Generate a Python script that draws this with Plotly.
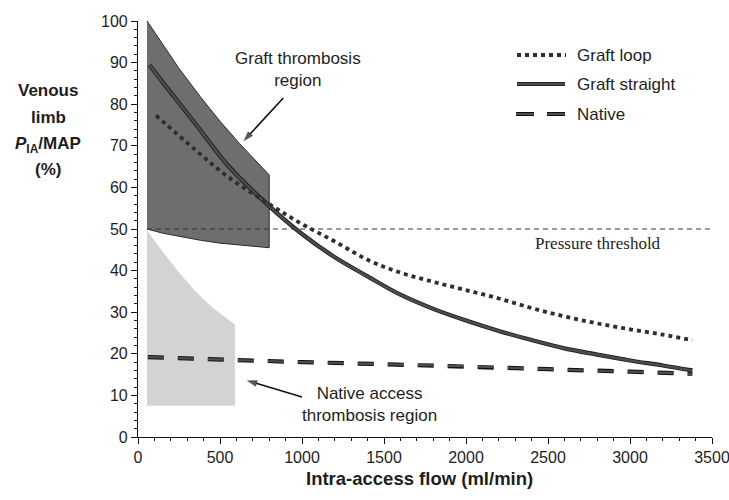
import plotly.graph_objects as go

# ---------------- data ----------------
graft_region_x = [55, 150, 250, 380, 500, 620, 800]
graft_region_top = [100, 94.3, 88.6, 81.8, 75.9, 70.5, 63]
graft_region_bottom = [50, 49.0, 48.2, 47.3, 46.6, 46.1, 45.5]

native_region_x = [55, 150, 250, 350, 450, 520, 590]
native_region_top = [49.6, 44.5, 39.5, 35.0, 31.2, 29.0, 27.0]
native_region_bottom = [7.6, 7.6, 7.6, 7.6, 7.6, 7.6, 7.6]

straight_x = [70, 150, 350, 550, 800, 1000, 1200, 1400, 1600, 1800, 2000,
              2200, 2400, 2600, 2800, 3000, 3200, 3380]
straight_y = [89.4, 85.3, 75.3, 65.2, 55.5, 48.8, 43.2, 38.6, 34.2, 30.8, 28.0,
              25.5, 23.3, 21.3, 19.8, 18.4, 17.2, 16.0]

loop_x = [110, 350, 550, 800, 1000, 1200, 1400, 1600, 1800, 2000, 2200,
          2400, 2600, 2800, 3000, 3200, 3380]
loop_y = [77.3, 69.0, 62.5, 56.0, 51.2, 47.0, 42.6, 39.5, 37.3, 35.3, 33.3,
          31.0, 29.0, 27.3, 25.9, 24.6, 23.3]

native_x = [60, 500, 1000, 1500, 2000, 2500, 3000, 3380]
native_y = [19.2, 18.6, 18.0, 17.5, 17.0, 16.3, 15.7, 15.2]

threshold_x = [55, 3500]
threshold_y = [50, 50]

# annotation arrows (tail -> head), in axis units
graft_arrow_x = [886, 643]
graft_arrow_y = [81.5, 71.1]
native_arrow_x = [1000, 663]
native_arrow_y = [9.6, 13.6]

x_ticks = [0, 500, 1000, 1500, 2000, 2500, 3000, 3500]
y_ticks = [0, 10, 20, 30, 40, 50, 60, 70, 80, 90, 100]

legend_labels = ["Graft loop", "Graft straight", "Native"]

SANS = "Liberation Sans, Arial, sans-serif"
SERIF = "Liberation Serif, Times New Roman, serif"
TXT = "#1e1e1e"

fig = go.Figure()

# graft thrombosis region (dark)
fig.add_trace(go.Scatter(
    x=graft_region_x + graft_region_x[::-1],
    y=graft_region_top + graft_region_bottom[::-1],
    fill="toself", fillcolor="#6e6e6e",
    line=dict(color="#2a2a2a", width=1), mode="lines",
    hoverinfo="skip", showlegend=False))

# native access thrombosis region (light)
fig.add_trace(go.Scatter(
    x=native_region_x + native_region_x[::-1],
    y=native_region_top + native_region_bottom[::-1],
    fill="toself", fillcolor="#d3d3d3",
    line=dict(color="#d3d3d3", width=0.5), mode="lines",
    hoverinfo="skip", showlegend=False))

# pressure threshold
fig.add_trace(go.Scatter(
    x=threshold_x, y=threshold_y, mode="lines",
    line=dict(color="#333333", width=1, dash="5px,4px"),
    hoverinfo="skip", showlegend=False))

# Native (dashed, outlined)
fig.add_trace(go.Scatter(
    x=native_x, y=native_y, mode="lines",
    line=dict(color="#111111", width=4.2, dash="16px,14px"),
    showlegend=False, hoverinfo="skip"))
fig.add_trace(go.Scatter(
    x=native_x, y=native_y, mode="lines", name=legend_labels[2],
    line=dict(color="#4e4e4e", width=2.2, dash="16px,14px"),
    showlegend=False))

# Graft straight (solid, outlined)
fig.add_trace(go.Scatter(
    x=straight_x, y=straight_y, mode="lines",
    line=dict(color="#1a1a1a", width=4.2, shape="spline"),
    showlegend=False, hoverinfo="skip"))
fig.add_trace(go.Scatter(
    x=straight_x, y=straight_y, mode="lines", name=legend_labels[1],
    line=dict(color="#4c4c4c", width=2.6, shape="spline"),
    showlegend=False))

# Graft loop (dotted)
fig.add_trace(go.Scatter(
    x=loop_x, y=loop_y, mode="lines", name=legend_labels[0],
    line=dict(color="#2e2e2e", width=3.8, dash="4px,4px", shape="spline"),
    showlegend=False))

# arrows
for ax_, ay_ in [(graft_arrow_x, graft_arrow_y), (native_arrow_x, native_arrow_y)]:
    fig.add_trace(go.Scatter(
        x=ax_, y=ay_, mode="lines+markers",
        line=dict(color="#111111", width=1.6),
        marker=dict(symbol=["circle", "arrow"], size=[0, 11], angleref="previous",
                    color="#111111", line=dict(width=0)),
        hoverinfo="skip", showlegend=False))

# ---------- manual legend ----------
def px_x(p):
    return (p - 138) / 574.0

def px_y(p):
    return (437 - p) / 416.0

legend_rows = [55, 84, 114]
shapes = []
shapes.append(dict(type="line", xref="paper", yref="paper",
                   x0=px_x(517), x1=px_x(566), y0=px_y(legend_rows[0]), y1=px_y(legend_rows[0]),
                   line=dict(color="#2e2e2e", width=3.8, dash="4px,4px")))
shapes.append(dict(type="line", xref="paper", yref="paper",
                   x0=px_x(517), x1=px_x(565), y0=px_y(legend_rows[1]), y1=px_y(legend_rows[1]),
                   line=dict(color="#1a1a1a", width=4.2)))
shapes.append(dict(type="line", xref="paper", yref="paper",
                   x0=px_x(517), x1=px_x(565), y0=px_y(legend_rows[1]), y1=px_y(legend_rows[1]),
                   line=dict(color="#4c4c4c", width=2.6)))
shapes.append(dict(type="line", xref="paper", yref="paper",
                   x0=px_x(516), x1=px_x(565), y0=px_y(legend_rows[2]), y1=px_y(legend_rows[2]),
                   line=dict(color="#111111", width=4.2, dash="18px,13px")))
shapes.append(dict(type="line", xref="paper", yref="paper",
                   x0=px_x(516), x1=px_x(565), y0=px_y(legend_rows[2]), y1=px_y(legend_rows[2]),
                   line=dict(color="#4e4e4e", width=2.2, dash="18px,13px")))

annotations = []
for lab, row in zip(legend_labels, legend_rows):
    annotations.append(dict(text=lab, xref="paper", yref="paper",
                            x=px_x(575), y=px_y(row), xanchor="left", yanchor="middle",
                            showarrow=False, font=dict(family=SANS, size=17, color=TXT)))

# region labels
annotations.append(dict(text="Graft thrombosis<br>region", x=976, y=88.4,
                        xref="x", yref="y", showarrow=False, align="center",
                        font=dict(family=SANS, size=17, color=TXT)))
annotations.append(dict(text="Native access<br>thrombosis region", x=1410, y=7.9,
                        xref="x", yref="y", showarrow=False, align="center",
                        font=dict(family=SANS, size=17, color=TXT)))
annotations.append(dict(text="Pressure threshold", x=2805, y=46.4,
                        xref="x", yref="y", showarrow=False,
                        font=dict(family=SERIF, size=17, color=TXT)))

# y-axis title (stacked lines)
ytitle_lines = ["<b>Venous</b>", "<b>limb</b>", "<b><i>P</i><sub>IA</sub>/MAP</b>", "<b>(%)</b>"]
ytitle_rows = [91, 118, 145, 170]
for t, row in zip(ytitle_lines, ytitle_rows):
    annotations.append(dict(text=t, xref="paper", yref="paper",
                            x=px_x(48), y=px_y(row), xanchor="center", yanchor="middle",
                            showarrow=False, font=dict(family=SANS, size=17, color=TXT)))

# x-axis title
annotations.append(dict(text="<b>Intra-access flow (ml/min)</b>", xref="paper", yref="paper",
                        x=px_x(419), y=px_y(478), xanchor="center", yanchor="middle",
                        showarrow=False, font=dict(family=SANS, size=18.5, color=TXT)))

fig.update_layout(
    width=729, height=500,
    margin=dict(l=138, r=17, t=21, b=63, autoexpand=False),
    paper_bgcolor="white", plot_bgcolor="white",
    showlegend=False,
    shapes=shapes, annotations=annotations,
    font=dict(family=SANS, size=16, color=TXT),
)

fig.update_xaxes(
    range=[0, 3500], tickvals=x_ticks, ticktext=[str(v) for v in x_ticks],
    showgrid=False, zeroline=False, ticklabeloverflow="allow", automargin=False,
    showline=True, linecolor="#111111", linewidth=1.2,
    ticks="outside", ticklen=6, tickcolor="#111111", tickwidth=1.2,
    minor=dict(dtick=100, ticks="outside", ticklen=3, tickcolor="#111111", showgrid=False),
    tickfont=dict(family=SANS, size=16, color=TXT),
)
fig.update_yaxes(
    range=[0, 100], tickvals=y_ticks, ticktext=[str(v) for v in y_ticks],
    showgrid=False, zeroline=False, automargin=False,
    showline=True, linecolor="#111111", linewidth=1.2,
    ticks="outside", ticklen=6, tickcolor="#111111", tickwidth=1.2,
    minor=dict(dtick=2, ticks="outside", ticklen=3, tickcolor="#111111", showgrid=False),
    tickfont=dict(family=SANS, size=16, color=TXT),
)

# remove the default page margin so the 729x500 figure fills the window exactly
fig.write_html("out.html",
               config={"displayModeBar": False},
               post_script="document.body.style.margin='0';document.body.style.overflow='hidden';")
